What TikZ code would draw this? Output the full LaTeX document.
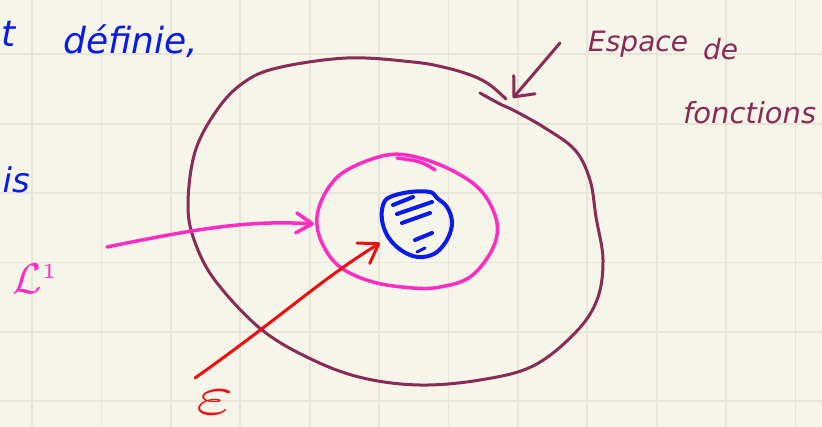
\documentclass[tikz,border=0pt]{standalone}
\usepackage{fontspec}
\usepackage{graphicx}
\newfontfamily\handfont{DejaVu Sans}
\usetikzlibrary{arrows.meta}
\definecolor{paper}{HTML}{F6F5EA}
\definecolor{gridc}{HTML}{E8E6D6}
\definecolor{inkblue}{HTML}{0A1AEB}
\definecolor{inkmaroon}{HTML}{8A2A57}
\definecolor{inkpink}{HTML}{FF2CC4}
\definecolor{inkred}{HTML}{F00D0D}
\begin{document}
\begin{tikzpicture}[x=1pt,y=-1pt,line cap=round,line join=round,
  ink/.style={line width=3pt},
  hand/.style={inner sep=0pt,font=\handfont\itshape}]
\fill[paper] (0,0) rectangle (822,427);
\useasboundingbox (0,0) rectangle (822,427);
% grid
\foreach \i in {0,...,11} \draw[gridc,line width=1.8pt] ({32+69.4*\i},0) -- ({32+69.4*\i},427);
\foreach \j in {0,...,5} \draw[gridc,line width=1.8pt] (0,{54.4+69.4*\j}) -- (822,{54.4+69.4*\j});

% texts
\node[hand,text=inkblue,anchor=base east] (tt) at (16,47) {\fontsize{36}{36}\selectfont t};
\node[hand,text=inkblue,anchor=base west] (def) at (63,54) {\fontsize{36}{36}\selectfont définie,};
\node[hand,text=inkblue,anchor=base east] (is) at (30,193) {\fontsize{34}{34}\selectfont is};
\node[inner sep=0pt,text=inkpink,anchor=base west] (L1) at (12,294) {\scalebox{4.3}{$\mathcal{L}^{\scriptscriptstyle 1}$}};
\node[inner sep=0pt,text=inkred,anchor=base west] (eps) at (196,414) {\scalebox{8}[5.6]{$\varepsilon$}};
\node[hand,text=inkmaroon,anchor=base west] (esp) at (588,52) {\fontsize{28}{28}\selectfont Espace};
\node[hand,text=inkmaroon,anchor=base west] (de) at (703,60) {\fontsize{28}{28}\selectfont de};
\node[hand,text=inkmaroon,anchor=base west] (fct) at (683,124) {\fontsize{29}{29}\selectfont fonctions};

% outer space of functions
\draw[ink,inkmaroon] plot[smooth,tension=0.6] coordinates {(480,93) (500,104) (515,111) (545,128) (575,150) (590,180) (596,217) (603,260) (597,300) (575,333) (533,366) (480,380) (420,385) (363,378) (313,360) (262,330) (217,283) (196,245) (188,207) (195,152) (217,110) (243,83) (277,68) (347,58) (413,62) (447,68) (473,76) (490,85) (506,99)};
\coordinate (espA) at (560,43);
\coordinate (espB) at (513,98);
\draw[ink,inkmaroon,-{Straight Barb[round,length=16pt,width=28pt]}] (espA) -- (espB);

% L1 set
\draw[line width=3.5pt,inkpink] plot[smooth cycle,tension=0.6] coordinates {(387,155) (420,158) (457,173) (483,193) (497,223) (492,250) (470,277) (440,287) (413,288) (373,282) (340,267) (322,243) (317,217) (327,190) (347,170)};
\draw[line width=3.5pt,inkpink] plot[smooth,tension=0.6] coordinates {(397,158) (420,162) (435,170)};
\coordinate (pinkA) at (107,247);
\coordinate (pinkB) at (314,224);
\draw[line width=3.5pt,inkpink,-{Straight Barb[round,length=16pt,width=20pt]}] (pinkA) .. controls (200,228) and (250,220) .. (pinkB);

% epsilon blob
\draw[line width=4pt,inkblue] plot[smooth cycle,tension=0.6] coordinates {(383,205) (390,197) (410,192) (430,192) (437,198) (447,207) (452,222) (448,238) (437,252) (423,257) (410,255) (397,247) (387,235) (382,220)};
\draw[line width=4pt,inkblue] (393,205) -- (413,197);
\draw[line width=4pt,inkblue] (397,214) -- (432,202);
\draw[line width=4pt,inkblue] (402,223) -- (430,213);
\draw[line width=4pt,inkblue] (415,240) -- (432,233);
\draw[line width=3pt,inkblue] (417,252) -- (425,248);

% epsilon arrow
\coordinate (redA) at (195,378);
\coordinate (redB) at (380,243);
\draw[ink,inkred,-{Straight Barb[round,length=18pt,width=24pt]}] (redA) .. controls (280,318) and (320,280) .. (redB);
\end{tikzpicture}
\end{document}
